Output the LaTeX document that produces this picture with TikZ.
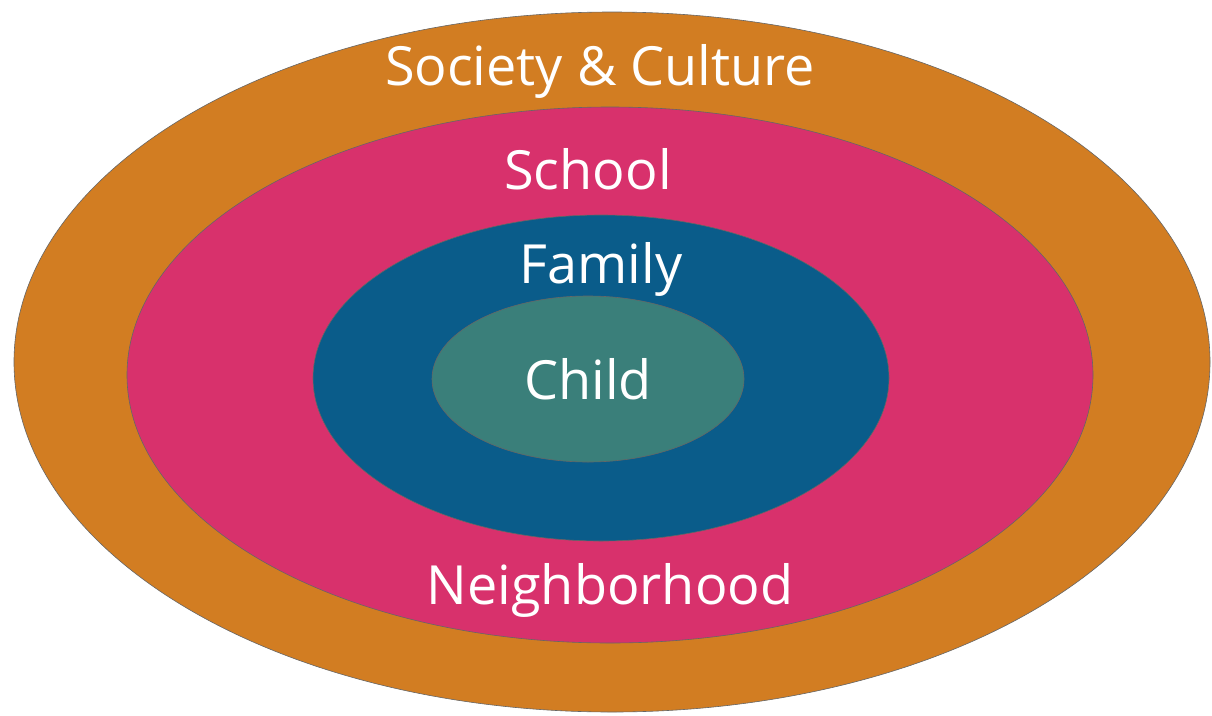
\documentclass[tikz,border=0pt]{standalone}
\usepackage{fontspec}
\setmainfont{Open Sans}
\begin{document}
\begin{tikzpicture}[x=1pt,y=-1pt,
  ring/.style={draw=black!60,line width=0.6pt},
  lbl/.style={text=white,font=\fontsize{54}{58}\selectfont,inner sep=0pt,anchor=base}]
\definecolor{society}{RGB}{210,125,34}
\definecolor{school}{RGB}{216,49,108}
\definecolor{family}{RGB}{10,92,138}
\definecolor{child}{RGB}{58,127,122}
\useasboundingbox (0,0) rectangle (1212,715);
\fill[white] (0,0) rectangle (1212,715);
% nested rings, outermost first
\path[ring,fill=society] (612,362) ellipse [x radius=598,y radius=350];
\path[ring,fill=school] (610,375) ellipse [x radius=483,y radius=268];
\path[ring,fill=family] (601,378) ellipse [x radius=288,y radius=163];
\path[ring,fill=child] (588,379) ellipse [x radius=156,y radius=83];
% labels
\node[lbl] (society) at (600,85) {Society \& Culture};
\node[lbl] (school) at (588,189) {School};
\node[lbl] (family) at (601,283) {Family};
\node[lbl] (childl) at (588,399) {Child};
\node[lbl] (neigh) at (610,604) {Neighborhood};
\end{tikzpicture}
\end{document}
